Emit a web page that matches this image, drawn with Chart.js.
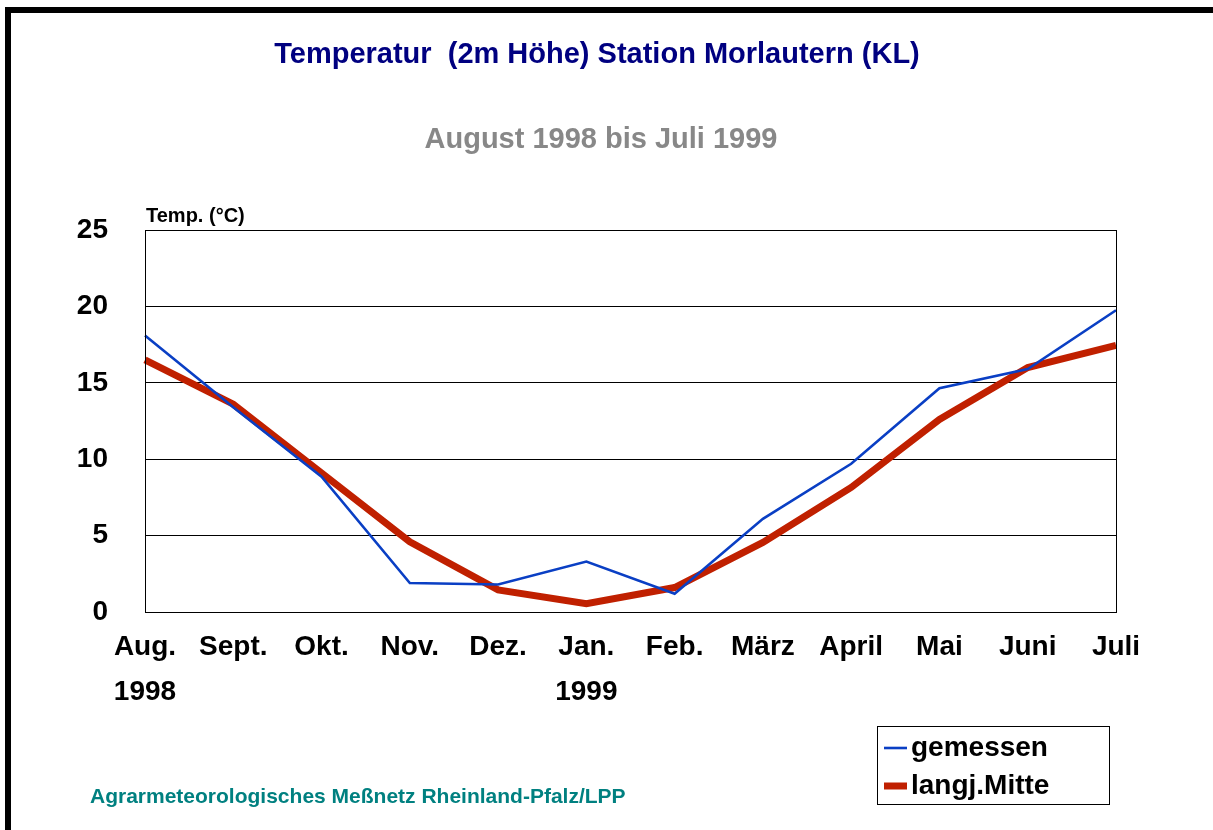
<!DOCTYPE html>
<html>
<head>
<meta charset="utf-8">
<script src="https://cdn.jsdelivr.net/npm/chart.js@4/dist/chart.umd.min.js"></script>
<style>
html,body{margin:0;padding:0;background:#fff;}
#wrap{width:1213px;height:830px;position:relative;}
</style>
</head>
<body>
<div id="wrap"><canvas id="c" width="1213" height="830"></canvas></div>
<script>
const monthLabels = ["Aug.", "Sept.", "Okt.", "Nov.", "Dez.", "Jan.", "Feb.", "März", "April", "Mai", "Juni", "Juli"];
const yearLabels = ["1998", "", "", "", "", "1999", "", "", "", "", "", ""];
const gemessen = [18.1, 13.4, 8.85, 1.9, 1.8, 3.3, 1.2, 6.1, 9.7, 14.65, 15.9, 19.75];
const langjMitte = [16.5, 13.6, 9.1, 4.6, 1.45, 0.55, 1.6, 4.55, 8.15, 12.6, 16.0, 17.45];
const yTicks = [0, 5, 10, 15, 20, 25];

const titleText = "Temperatur  (2m Höhe) Station Morlautern (KL)";
const subtitleText = "August 1998 bis Juli 1999";
const yAxisTitle = "Temp. (°C)";
const footerText = "Agrarmeteorologisches Meßnetz Rheinland-Pfalz/LPP";

const FONT = "'Liberation Sans', Arial, Helvetica, sans-serif";

const categories = monthLabels.map((m, i) => yearLabels[i] ? [m, yearLabels[i]] : m);

const decorPlugin = {
  id: 'decor',
  beforeDraw(chart) {
    const ctx = chart.ctx;
    ctx.save();
    ctx.fillStyle = '#fff';
    ctx.fillRect(0, 0, chart.width, chart.height);
    ctx.fillStyle = '#000';
    ctx.fillRect(5, 7, chart.width - 5, 6);
    ctx.fillRect(5, 7, 6, chart.height - 7);
    ctx.restore();
  },
  afterDraw(chart) {
    const ctx = chart.ctx;
    const a = chart.chartArea;
    ctx.save();
    ctx.strokeStyle = '#000';
    ctx.lineWidth = 1;
    ctx.strokeRect(Math.round(a.left) + 0.5, Math.round(a.top) + 0.5, Math.round(a.right - a.left), Math.round(a.bottom - a.top));
    ctx.textBaseline = 'middle';
    ctx.textAlign = 'center';
    ctx.fillStyle = '#000080';
    ctx.font = "bold 29px " + FONT;
    ctx.fillText(titleText, 597, 55);
    ctx.fillStyle = '#888888';
    ctx.fillText(subtitleText, 601, 140);
    ctx.textAlign = 'left';
    ctx.fillStyle = '#000';
    ctx.font = "bold 20px " + FONT;
    ctx.fillText(yAxisTitle, 146, 216);
    ctx.fillStyle = '#008080';
    ctx.font = "bold 21px " + FONT;
    ctx.fillText(footerText, 90, 797);
    // legend box
    const lx = 877, ly = 726, lw = 232, lh = 78;
    ctx.fillStyle = '#fff';
    ctx.fillRect(lx, ly, lw, lh);
    ctx.strokeStyle = '#000';
    ctx.lineWidth = 1;
    ctx.strokeRect(lx + 0.5, ly + 0.5, lw, lh);
    const rows = [748, 786];
    chart.data.datasets.forEach((ds, i) => {
      ctx.strokeStyle = ds.borderColor;
      ctx.lineWidth = ds.borderWidth;
      ctx.beginPath();
      ctx.moveTo(884, rows[i]);
      ctx.lineTo(907, rows[i]);
      ctx.stroke();
      ctx.fillStyle = '#000';
      ctx.font = "bold 28px " + FONT;
      ctx.fillText(ds.label, 911, rows[i]);
    });
    ctx.restore();
  }
};

new Chart(document.getElementById('c'), {
  type: 'line',
  data: {
    labels: categories,
    datasets: [
      { label: 'gemessen', data: gemessen, borderColor: '#0a3fc4', borderWidth: 2.6, pointRadius: 0, tension: 0, fill: false },
      { label: 'langj.Mitte', data: langjMitte, borderColor: '#c02000', borderWidth: 7, pointRadius: 0, tension: 0, fill: false }
    ]
  },
  options: {
    responsive: false,
    animation: false,
    devicePixelRatio: 1,
    layout: { padding: { top: 230, right: 97, left: 0, bottom: 0 } },
    plugins: { legend: { display: false }, title: { display: false }, tooltip: { enabled: false } },
    scales: {
      x: {
        offset: false,
        grid: { display: false, drawTicks: false },
        border: { display: true, color: '#000', width: 1 },
        ticks: {
          color: '#000',
          font: { family: FONT, size: 28, weight: 'bold', lineHeight: 1.6 },
          padding: 13,
          maxRotation: 0,
          autoSkip: false
        },
        afterFit: s => { s.height = 218; }
      },
      y: {
        min: 0, max: 25,
        afterBuildTicks: s => { s.ticks = yTicks.map(v => ({ value: v })); },
        grid: { color: '#000', lineWidth: 1, drawTicks: false },
        border: { display: true, color: '#000', width: 1 },
        ticks: {
          color: '#000',
          font: { family: FONT, size: 28, weight: 'bold' },
          padding: 37
        },
        afterFit: s => { s.width = 145; }
      }
    }
  },
  plugins: [decorPlugin]
});
</script>
</body>
</html>
